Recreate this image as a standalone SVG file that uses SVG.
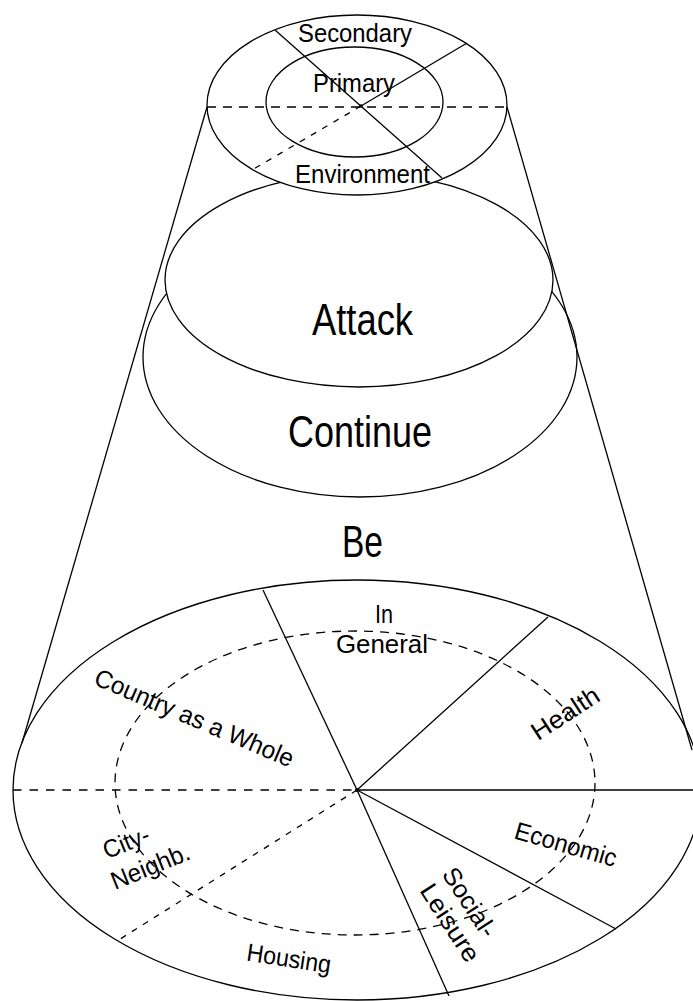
<svg xmlns="http://www.w3.org/2000/svg" width="693" height="1001" viewBox="0 0 693 1001">
  <style>
    .ln { fill: none; stroke: #000; stroke-width: 1.3; }
    .disk { fill: #fff; stroke: #000; stroke-width: 1.3; }
    .dash { fill: none; stroke: #000; stroke-width: 1.3; stroke-dasharray: 9 7; }
    .dot { fill: none; stroke: #000; stroke-width: 1.3; stroke-dasharray: 6 7; }
    .lbl { font-family: "Liberation Sans", Arial, sans-serif; font-size: 26px; fill: #000; }
    .big { font-size: 44px; }
    .sm { font-size: 25px; }
  </style>
  <rect width="693" height="1001" fill="#fff"/>

  <!-- stacked layers, back to front -->
  <g id="continue">
    <ellipse class="disk" cx="360" cy="357" rx="217" ry="140"/>
    <text class="lbl big" x="360" y="447" text-anchor="middle" textLength="144" lengthAdjust="spacingAndGlyphs">Continue</text>
  </g>

  <g id="attack">
    <ellipse class="disk" cx="359" cy="280" rx="194" ry="107"/>
    <text class="lbl big" x="362.5" y="335" text-anchor="middle" textLength="101" lengthAdjust="spacingAndGlyphs">Attack</text>
  </g>

  <g id="environment">
    <ellipse class="disk" cx="357" cy="105" rx="150" ry="90"/>
    <ellipse class="ln" cx="354.5" cy="102" rx="88.5" ry="55"/>
    <line class="dash" x1="207" y1="107" x2="507" y2="107"/>
    <line class="ln" x1="275" y1="30" x2="442" y2="178"/>
    <line class="ln" x1="467" y1="43" x2="361" y2="106"/>
    <line class="dot" x1="361" y1="106" x2="252" y2="170"/>
    <circle cx="361" cy="106" r="1.8" fill="#000"/>
    <text class="lbl" x="355" y="42" text-anchor="middle" textLength="114" lengthAdjust="spacingAndGlyphs">Secondary</text>
    <text class="lbl" x="354" y="92" text-anchor="middle" textLength="82" lengthAdjust="spacingAndGlyphs">Primary</text>
    <text class="lbl" x="362.5" y="183" text-anchor="middle" textLength="135" lengthAdjust="spacingAndGlyphs">Environment</text>
  </g>

  <g id="be">
    <text class="lbl big" x="362.5" y="557" text-anchor="middle" textLength="41" lengthAdjust="spacingAndGlyphs">Be</text>
  </g>

  <g id="domains">
    <ellipse class="ln" cx="357" cy="790" rx="344" ry="210"/>
    <ellipse class="dash" cx="355" cy="783" rx="240" ry="152"/>
    <line class="dash" x1="13" y1="790" x2="357" y2="790" style="stroke-dasharray:8.5 8"/>
    <line class="ln" x1="357" y1="790" x2="693" y2="790"/>
    <line class="ln" x1="357" y1="790" x2="263" y2="590"/>
    <line class="ln" x1="357" y1="790" x2="548" y2="617"/>
    <line class="ln" x1="357" y1="790" x2="616" y2="929"/>
    <line class="ln" x1="357" y1="790" x2="449" y2="996"/>
    <line class="dot" x1="357" y1="790" x2="117" y2="941"/>
    <circle cx="357" cy="790" r="2" fill="#000"/>

    <text class="lbl sm" text-anchor="middle"><tspan x="384" y="623" textLength="18" lengthAdjust="spacingAndGlyphs">In</tspan><tspan x="382" y="653" textLength="92" lengthAdjust="spacingAndGlyphs">General</tspan></text>
    <text class="lbl sm" transform="translate(194.5 717.5) rotate(23)" x="0" y="9" text-anchor="middle" textLength="214" lengthAdjust="spacingAndGlyphs">Country as a Whole</text>
    <text class="lbl sm" transform="translate(565 713) rotate(-33)" x="0" y="9" text-anchor="middle" textLength="76" lengthAdjust="spacingAndGlyphs">Health</text>
    <text class="lbl sm" transform="translate(566 844) rotate(16)" x="0" y="9" text-anchor="middle" textLength="105" lengthAdjust="spacingAndGlyphs">Economic</text>
    <text class="lbl sm" transform="translate(470 902) rotate(57)" x="0" y="9" text-anchor="middle" textLength="78" lengthAdjust="spacingAndGlyphs">Social-</text>
    <text class="lbl sm" transform="translate(450.5 922.5) rotate(57)" x="0" y="9" text-anchor="middle" textLength="88" lengthAdjust="spacingAndGlyphs">Leisure</text>
    <text class="lbl sm" transform="translate(126 842) rotate(-22)" x="0" y="9" text-anchor="middle" textLength="48" lengthAdjust="spacingAndGlyphs">City-</text>
    <text class="lbl sm" transform="translate(150 866) rotate(-22)" x="0" y="9" text-anchor="middle" textLength="83" lengthAdjust="spacingAndGlyphs">Neighb.</text>
    <text class="lbl sm" transform="translate(289 958) rotate(8.6)" x="0" y="9" text-anchor="middle" textLength="85" lengthAdjust="spacingAndGlyphs">Housing</text>
  </g>

  <!-- cone sides joining the top rim to the base -->
  <g id="connectors">
    <line class="ln" x1="207" y1="107" x2="22" y2="743"/>
    <line class="ln" x1="507" y1="107" x2="692" y2="750"/>
  </g>
</svg>
